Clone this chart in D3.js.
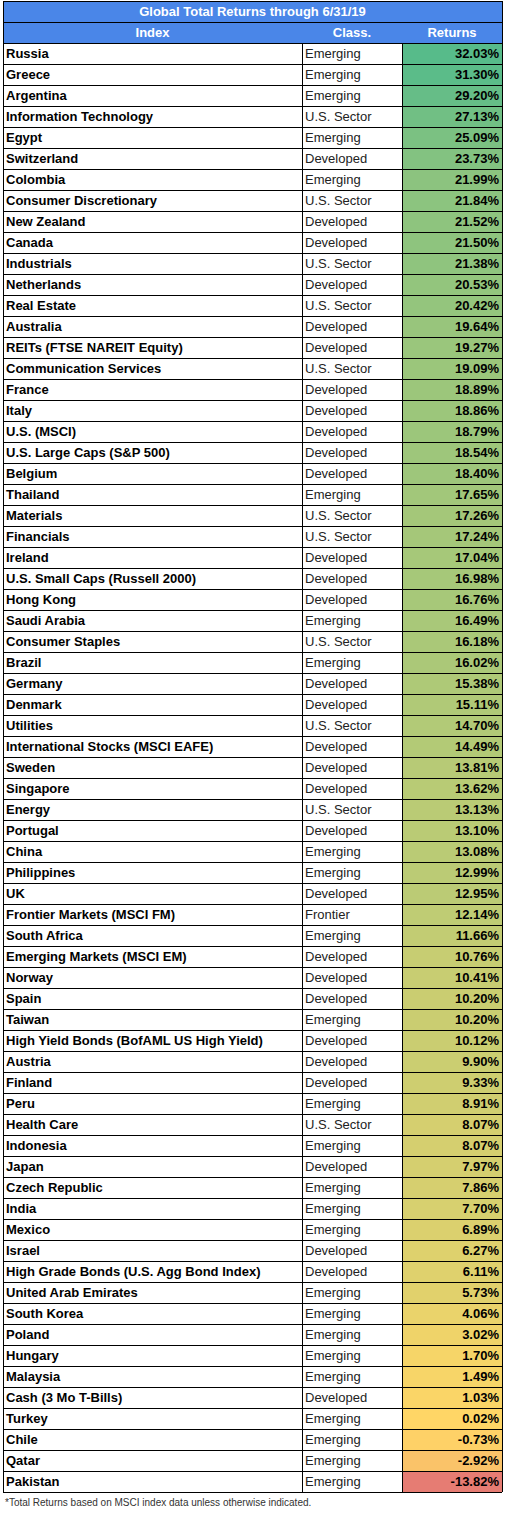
<!DOCTYPE html><html><head><meta charset="utf-8">
<script src="https://cdn.jsdelivr.net/npm/d3@7"></script>
<style>body{margin:0;background:#fff}</style></head><body><svg id="c" width="505" height="1513"></svg>
<script>
const names=["Russia","Greece","Argentina","Information Technology","Egypt","Switzerland","Colombia","Consumer Discretionary","New Zealand","Canada","Industrials","Netherlands","Real Estate","Australia","REITs (FTSE NAREIT Equity)","Communication Services","France","Italy","U.S. (MSCI)","U.S. Large Caps (S&P 500)","Belgium","Thailand","Materials","Financials","Ireland","U.S. Small Caps (Russell 2000)","Hong Kong","Saudi Arabia","Consumer Staples","Brazil","Germany","Denmark","Utilities","International Stocks (MSCI EAFE)","Sweden","Singapore","Energy","Portugal","China","Philippines","UK","Frontier Markets (MSCI FM)","South Africa","Emerging Markets (MSCI EM)","Norway","Spain","Taiwan","High Yield Bonds (BofAML US High Yield)","Austria","Finland","Peru","Health Care","Indonesia","Japan","Czech Republic","India","Mexico","Israel","High Grade Bonds (U.S. Agg Bond Index)","United Arab Emirates","South Korea","Poland","Hungary","Malaysia","Cash (3 Mo T-Bills)","Turkey","Chile","Qatar","Pakistan"];
const E="Emerging",D="Developed",S="U.S. Sector",F="Frontier";
const classes=[E,E,E,S,E,D,E,S,D,D,S,D,S,D,D,S,D,D,D,D,D,E,S,S,D,D,D,E,S,E,D,D,S,D,D,D,S,D,E,E,D,F,E,D,D,D,E,D,D,D,E,S,E,D,E,E,E,D,D,E,E,E,E,E,D,E,E,E,E];
const returns=[32.03,31.30,29.20,27.13,25.09,23.73,21.99,21.84,21.52,21.50,21.38,20.53,20.42,19.64,19.27,19.09,18.89,18.86,18.79,18.54,18.40,17.65,17.26,17.24,17.04,16.98,16.76,16.49,16.18,16.02,15.38,15.11,14.70,14.49,13.81,13.62,13.13,13.10,13.08,12.99,12.95,12.14,11.66,10.76,10.41,10.20,10.20,10.12,9.90,9.33,8.91,8.07,8.07,7.97,7.86,7.70,6.89,6.27,6.11,5.73,4.06,3.02,1.70,1.49,1.03,0.02,-0.73,-2.92,-13.82];
const title="Global Total Returns through 6/31/19";
const headers=["Index","Class.","Returns"];
const note="*Total Returns based on MSCI index data unless otherwise indicated.";

const svg=d3.select("#c");
const x0=3,x1=302,x2=402,x3=502,yTop=43,rh=21;
const y=d3.scaleBand().domain(d3.range(names.length)).range([yTop,yTop+rh*names.length]);
const col=d3.scaleLinear().domain([d3.min(returns),0,d3.max(returns)]).range(["#E67C73","#FFD666","#57BB8A"]);
const font="Liberation Sans, Arial, sans-serif";
svg.append("rect").attr("x",x0).attr("y",1).attr("width",x3-x0).attr("height",yTop-1).attr("fill","#4A86E8");
svg.append("text").attr("x",(x0+x3)/2).attr("y",16).attr("text-anchor","middle").attr("fill","#fff").attr("font-weight","bold").attr("font-size",13).attr("font-family",font).text(title);
[[x0,x1],[x1,x2],[x2,x3]].forEach((c,i)=>svg.append("text").attr("x",(c[0]+c[1])/2).attr("y",37).attr("text-anchor","middle").attr("fill","#fff").attr("font-weight","bold").attr("font-size",13).attr("font-family",font).text(headers[i]));
const g=svg.selectAll("g.r").data(names).join("g").attr("transform",(d,i)=>`translate(0,${y(i)})`);
g.append("rect").attr("x",x2).attr("width",x3-x2).attr("height",rh).attr("fill",(d,i)=>col(returns[i]));
g.append("text").attr("x",x0+3).attr("y",15).attr("font-weight","bold").attr("font-size",13).attr("font-family",font).text(d=>d);
g.append("text").attr("x",x1+3).attr("y",15).attr("font-size",13).attr("fill","#222").attr("font-family",font).text((d,i)=>classes[i]);
g.append("text").attr("x",x3-3).attr("y",15).attr("text-anchor","end").attr("font-weight","bold").attr("font-size",13).attr("font-family",font).text((d,i)=>returns[i].toFixed(2)+"%");
const bot=yTop+rh*names.length;
svg.selectAll("line.h").data(d3.range(names.length+1)).join("line").attr("x1",x0).attr("x2",x3).attr("y1",i=>yTop+i*rh+0.5).attr("y2",i=>yTop+i*rh+0.5).attr("stroke","#000").attr("stroke-width",1);
[x0,x1,x2,x3].forEach(x=>svg.append("line").attr("x1",x+0.5).attr("x2",x+0.5).attr("y1",yTop).attr("y2",bot).attr("stroke","#000"));
[x0,x3].forEach(x=>svg.append("line").attr("x1",x+0.5).attr("x2",x+0.5).attr("y1",1).attr("y2",yTop).attr("stroke","#000"));
svg.append("line").attr("x1",x0).attr("x2",x3).attr("y1",1.5).attr("y2",1.5).attr("stroke","#000");
svg.append("line").attr("x1",x0).attr("x2",x3).attr("y1",22.5).attr("y2",22.5).attr("stroke","#000");
svg.append("text").attr("x",x0+2).attr("y",bot+14).attr("font-size",10).attr("fill","#333").attr("font-family",font).text(note);
</script></body></html>
